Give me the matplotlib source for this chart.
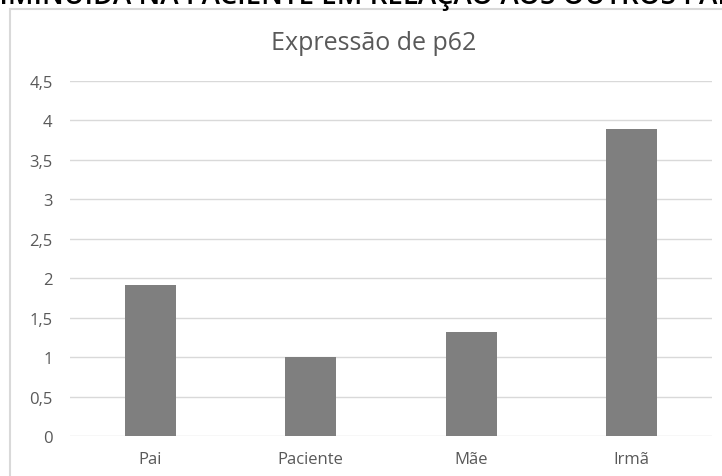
import matplotlib.pyplot as plt
from matplotlib.patches import Rectangle

# p62 expression per family member
membros = ['Pai', 'Paciente', 'Mãe', 'Irmã']
expressao = [1.91, 1.0, 1.32, 3.89]
yticks = [0, 0.5, 1, 1.5, 2, 2.5, 3, 3.5, 4, 4.5]
ytick_labels = ['0', '0,5', '1', '1,5', '2', '2,5', '3', '3,5', '4', '4,5']

W, H = 722, 477
fig = plt.figure(figsize=(W / 100, H / 100), dpi=100)
fig.patch.set_facecolor('white')

# heading of the document, cut by the top edge
fig.text(-21 / W, 1 - 4 / H, 'DIMINUÍDA NA PACIENTE EM RELAÇÃO AOS OUTROS PARENTES',
         fontsize=20, family='Open Sans', weight='semibold', color='black',
         ha='left', va='baseline')

# chart frame
fig.add_artist(Rectangle((10 / W, -0.1), 1.2, 1 - 10 / H + 0.1, transform=fig.transFigure,
                         fill=False, edgecolor='#d9d9d9', linewidth=1.5))

ax = fig.add_axes([70 / W, 40 / H, 642 / W, 355 / H])
x = range(len(membros))
ax.bar(x, expressao, width=0.315, color='#7f7f7f', zorder=3)
ax.set_xlim(-0.5, len(membros) - 0.5)
ax.set_ylim(0, 4.5)
ax.set_yticks(yticks)
ax.set_yticklabels(ytick_labels)
ax.set_xticks(list(x))
ax.set_xticklabels(membros)
ax.yaxis.grid(True, color='#d9d9d9', linewidth=1, zorder=0)
for s in ax.spines.values():
    s.set_visible(False)
ax.tick_params(length=0, labelsize=12, labelcolor='#595959')
ax.tick_params(axis='y', pad=12.5)
ax.tick_params(axis='x', pad=11)
for lbl in ax.get_xticklabels() + ax.get_yticklabels():
    lbl.set_family('Open Sans')

fig.text(374 / W, 1 - 50 / H, 'Expressão de p62', fontsize=18, family='Open Sans',
         color='#595959', ha='center', va='baseline')

fig.savefig('out.png', dpi=100)
